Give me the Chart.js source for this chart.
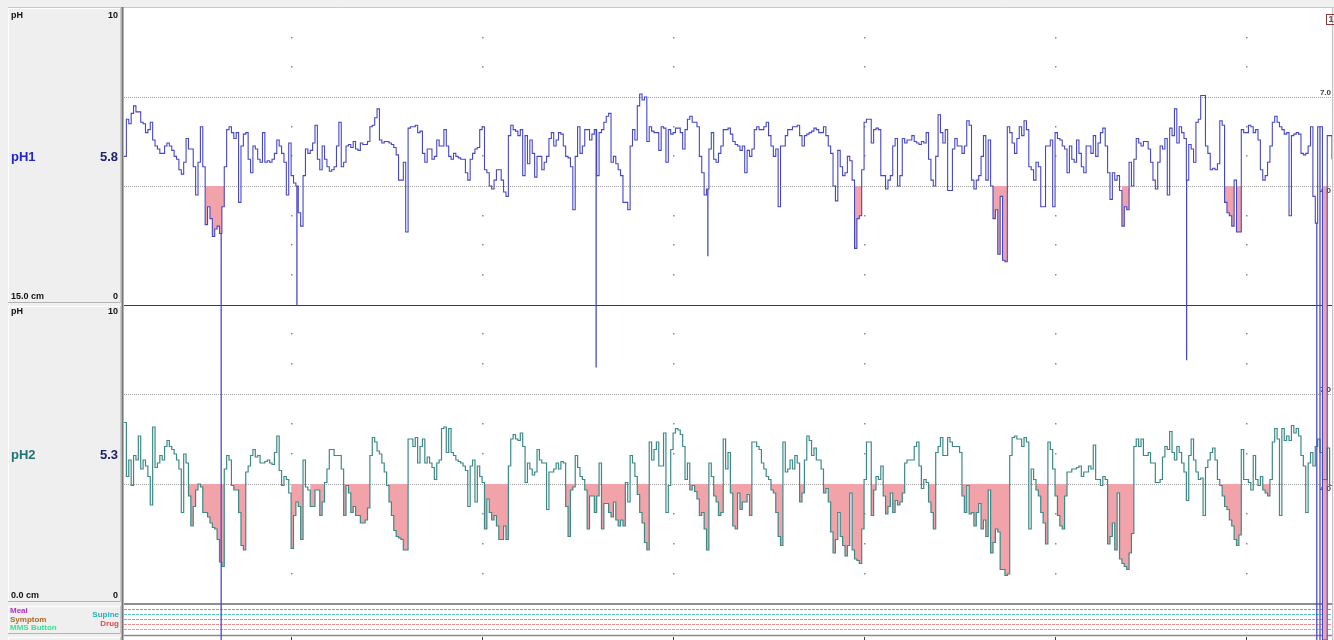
<!DOCTYPE html>
<html>
<head>
<meta charset="utf-8">
<title>pH monitoring</title>
<script src="https://cdn.jsdelivr.net/npm/chart.js@4.4.1/dist/chart.umd.min.js"></script>
<style>
  html, body { margin: 0; padding: 0; background: #f0f0f0; overflow: hidden; }
  canvas { display: block; }
</style>
</head>
<body>
<canvas id="trace" width="1334" height="640"></canvas>
<script>
// Stored samples are 0.75 minutes apart, starting at the beginning of the record.
const SAMPLE_MIN = 0.75;

// Proximal channel (pH1), one value per sample.
const ph1Values = [
  5.0,6.25, 6.1,6.45, 6.7,6.5, 6.5,6.15, 6.1,5.8,
  5.9,6.15, 5.55,5.35, 5.25,5.1, 5.1,5.35, 5.45,5.35,
  5.2,5.0, 4.9,4.55, 4.4,4.8, 5.6,5.25, 5.25,4.65,
  3.7,4.8, 6.0,4.65, 2.7,3.3, 2.9,2.3, 2.55,2.65,
  2.4,3.3, 4.65,5.9, 6.0,5.8, 5.6,5.8, 3.45,5.35,
  5.75,5.8, 4.9,4.45, 5.35,5.25, 4.9,4.8, 5.8,4.8,
  4.85,4.8, 4.9,5.1, 5.55,5.35, 5.1,4.8, 3.7,5.45,
  4.35,4.1, 4.0,3.1, 2.65,4.35, 5.25,5.1, 5.2,5.45,
  6.05,4.9, 4.55,5.35, 4.9,4.65, 4.5,4.55, 4.65,5.35,
  6.15,4.65, 4.8,5.35, 5.4,5.3, 5.5,5.25, 5.2,5.45,
  5.4,5.4, 5.5,6.0, 6.05,6.3, 6.6,5.55, 5.45,5.5,
  5.5,5.45, 5.4,5.3, 5.05,4.2, 4.2,4.8, 2.45,5.95,
  6.0,6.0, 6.05,5.8, 5.85,5.1, 4.8,5.25, 5.25,4.9,
  5.0,5.55, 5.35,5.35, 5.9,5.35, 5.0,4.9, 5.1,5.0,
  4.95,4.9, 4.9,4.45, 4.2,4.9, 5.1,5.25, 5.3,5.9,
  6.0,4.55, 4.45,4.0, 3.9,4.2, 4.55,4.55, 4.2,3.8,
  3.65,5.7, 6.05,5.9, 5.85,5.7, 5.9,4.35, 5.7,4.75,
  5.55,5.1, 4.3,5.0, 5.0,4.55, 4.8,5.0, 5.6,5.8,
  5.35,5.55, 5.8,5.75, 5.35,5.0, 4.95,4.65, 3.2,5.0,
  6.0,5.1, 5.35,5.9, 5.9,5.55, 5.75,5.9, 4.35,5.8,
  5.9,6.15, 6.35,6.45, 4.8,5.0, 4.75,4.55, 4.35,3.45,
  3.45,3.2, 5.35,5.9, 5.55,6.7, 7.1,6.9, 7.0,5.5,
  6.0,5.85, 5.8,5.8, 5.2,6.0, 5.95,4.8, 5.9,5.75,
  5.8,5.95, 5.95,5.8, 5.25,5.9, 6.25,6.35, 6.15,6.15,
  6.0,5.0, 4.45,3.7, 3.9,5.25, 5.8,4.9, 4.8,5.1,
  5.35,5.9, 5.9,5.95, 5.75,5.5, 5.4,5.35, 5.2,5.35,
  4.45,5.2, 5.0,5.25, 5.9,6.0, 5.9,5.9, 6.0,6.15,
  5.7,5.35, 5.0,5.25, 3.3,5.35, 5.35,5.7, 5.9,5.9,
  6.0,6.0, 6.05,5.7, 5.35,5.7, 5.75,5.8, 5.85,5.95,
  5.9,5.8, 5.8,6.0, 5.7,5.35, 5.1,4.0, 3.5,5.2,
  4.65,4.35, 4.45,5.0, 4.85,4.2, 1.9,2.9, 3.0,4.55,
  6.15,6.25, 6.25,5.45, 5.9,5.95, 5.9,4.35, 4.35,3.9,
  4.2,4.35, 5.35,5.6, 4.0,4.35, 5.6,5.45, 5.55,5.55,
  5.7,5.5, 5.45,5.4, 5.5,5.45, 5.8,4.9, 4.2,4.0,
  5.0,6.4, 5.8,5.45, 5.9,3.85, 3.85,5.25, 5.6,5.35,
  5.35,5.1, 5.35,6.2, 6.05,4.2, 3.9,4.2, 4.35,5.0,
  5.7,4.2, 5.55,4.0, 2.9,3.2, 1.7,3.65, 1.5,1.45,
  6.0,5.8, 5.45,5.1, 5.6,6.0, 5.7,6.2, 5.9,4.65,
  4.55,4.2, 4.8,4.65, 3.3,3.3, 5.35,5.35, 5.55,3.3,
  5.8,5.6, 5.55,5.35, 5.25,4.45, 5.35,4.9, 4.8,5.55,
  5.1,4.65, 4.45,5.35, 5.35,5.1, 5.7,5.0, 5.45,5.8,
  5.95,5.35, 4.45,3.55, 4.45,4.2, 4.35,3.85, 2.65,3.3,
  3.2,4.8, 4.0,4.9, 5.6,5.45, 5.35,5.5, 5.5,5.25,
  4.8,4.2, 3.9,4.8, 5.35,5.25, 5.6,3.7, 5.95,5.7,
  6.6,5.45, 6.0,5.8, 5.6,4.2, 5.4,5.25, 4.8,6.15,
  6.25,7.05, 7.05,5.35, 5.1,4.55, 4.6,4.55, 4.75,6.2,
  6.05,3.45, 3.1,3.0, 2.65,4.2, 2.45,2.45, 5.9,5.8,
  5.8,6.05, 6.0,5.8, 5.9,5.55, 4.55,4.2, 4.35,4.8,
  5.35,6.15, 6.35,6.15, 6.0,5.9, 5.75,5.8, 3.0,5.7,
  5.75,5.8, 5.75,5.1, 5.05,5.1, 5.35,6.0, 3.65,2.75,
  6.0,5.35, -11.3,-11.3, 5.7,5.7, 4.9
];

// Distal channel (pH2), one value per sample.
const ph2Values = [
  6.05,4.25, 4.8,3.95, 4.95,4.8, 5.6,4.5, 4.8,4.6,
  4.25,3.3, 5.9,4.55, 4.7,4.95, 4.8,5.25, 5.45,5.25,
  5.15,5.0, 4.8,4.5, 3.05,5.0, 4.7,3.6, 2.6,3.25,
  3.8,4.0, 3.9,3.05, 3.05,2.9, 2.7,2.55, 2.5,2.15,
  1.4,1.25, 4.5,4.95, 4.8,3.95, 3.8,3.8, 3.05,1.95,
  1.8,4.4, 4.6,4.95, 5.15,4.9, 4.95,4.7, 4.7,4.75,
  4.8,4.7, 4.65,5.05, 5.6,4.45, 3.95,4.25, 4.15,3.7,
  1.85,2.95, 3.4,3.25, 2.15,4.8, 3.9,3.8, 3.25,3.25,
  3.8,3.8, 2.95,3.4, 4.05,4.5, 5.15,5.15, 4.95,4.95,
  4.95,4.5, 2.95,3.95, 3.7,3.05, 3.25,2.95, 2.95,2.7,
  2.7,2.8, 3.2,4.95, 5.55,5.4, 5.1,5.0, 4.7,4.4,
  3.95,3.4, 2.95,2.45, 2.25,2.2, 2.15,1.8, 1.8,5.5,
  5.5,5.25, 5.55,4.7, 5.25,5.5, 4.7,4.9, 4.7,4.55,
  4.15,4.7, 4.8,5.85, 5.9,5.05, 5.85,5.05, 4.95,4.8,
  4.75,4.7, 4.6,4.45, 3.25,4.6, 4.8,3.4, 4.6,4.25,
  4.05,2.5, 3.5,3.05, 2.8,2.95, 2.6,2.15, 2.15,2.6,
  2.15,4.6, 5.5,5.65, 5.5,5.45, 5.7,5.25, 4.05,4.7,
  4.5,4.3, 4.4,5.15, 4.8,4.7, 4.7,3.15, 4.4,4.4,
  4.5,4.7, 4.5,4.75, 4.7,3.25, 2.25,3.8, 3.9,4.95,
  4.55,4.25, 4.15,3.8, 2.5,3.6, 3.6,3.05, 3.6,4.7,
  2.5,3.35, 3.35,3.05, 2.9,3.4, 2.8,2.6, 2.8,2.6,
  4.05,3.4, 4.95,4.7, 4.25,3.65, 3.05,2.7, 2.05,1.8,
  5.4,4.8, 5.15,5.4, 4.6,4.6, 5.7,3.05, 3.95,5.15,
  5.7,5.85, 5.8,5.65, 5.25,4.15, 4.7,3.8, 3.95,3.75,
  3.5,2.95, 3.05,2.5, 1.8,4.7, 4.25,3.6, 3.4,2.95,
  3.05,5.5, 4.5,5.05, 3.7,2.6, 2.5,3.7, 3.15,3.4,
  3.4,3.65, 2.95,5.4, 5.4,5.25, 5.15,4.7, 4.5,4.25,
  4.15,3.8, 3.7,3.05, 2.25,1.95, 5.4,4.4, 4.5,4.8,
  4.5,4.95, 4.7,3.4, 3.7,4.8, 5.6,5.45, 4.95,5.2,
  4.8,4.8, 4.5,3.7, 3.85,3.4, 2.4,1.7, 2.15,3.05,
  2.25,1.95, 1.6,1.95, 3.7,1.8, 1.5,1.45, 1.35,2.5,
  4.15,5.4, 5.4,2.95, 3.8,4.25, 4.15,4.6, 3.6,3.0,
  3.25,3.7, 3.05,3.45, 3.3,3.4, 3.7,4.7, 4.8,4.8,
  4.8,5.25, 5.4,4.6, 3.85,4.15, 4.05,3.4, 3.05,2.5,
  5.05,5.25, 5.55,4.95, 4.95,5.55, 5.4,5.25, 5.25,5.25,
  5.05,3.6, 3.05,3.95, 3.0,3.05, 2.6,3.05, 3.35,2.5,
  2.8,2.25, 3.8,1.7, 2.05,2.5, 2.4,1.15, 1.15,0.95,
  1.0,4.95, 5.55,5.6, 5.5,5.5, 5.25,5.55, 5.4,2.5,
  4.5,4.15, 3.8,3.6, 3.05,2.7, 2.0,5.4, 5.15,4.5,
  3.6,2.95, 2.6,2.5, 3.6,4.4, 4.4,4.5, 4.5,4.55,
  4.6,4.25, 4.4,4.4, 4.6,4.5, 5.3,4.15, 4.15,3.95,
  4.25,4.15, 2.0,2.25, 2.7,1.8, 3.7,1.5, 1.35,1.25,
  1.15,1.7, 2.35,5.25, 5.5,5.25, 5.5,4.95, 4.95,5.05,
  4.7,4.7, 4.05,4.05, 4.15,4.9, 5.25,5.15, 5.75,5.05,
  4.8,5.25, 5.05,4.7, 4.4,3.45, 4.95,5.5, 4.8,4.4,
  4.15,4.2, 2.95,4.55, 4.8,5.05, 5.2,4.8, 4.15,3.95,
  3.6,3.25, 3.15,2.8, 2.6,2.15, 1.95,2.3, 5.15,4.15,
  4.15,4.05, 3.8,4.95, 4.15,3.95, 4.25,3.8, 3.7,3.6,
  4.15,5.4, 5.85,5.5, 2.95,5.85, 5.45,5.6, 5.45,5.95,
  5.7,5.85, 5.6,4.95, 4.6,3.05, 4.7,5.05, 4.6,5.25,
  5.5,5.05, 4.15,4.15, 5.2,3.95, 3.95
];

// Short electrode artefacts on pH1 (minutes, lowest reading).
const ph1ArtifactTimes = [30.5, 54.3, 148.3, 183.4, 333.8, 374.7, 375.7];
const ph1ArtifactLows  = [-11.5, 0.0, -2.1, 1.65, -1.85, -11.5, -11.5];

// Acid episodes (pH < 4) marked by the analysis, [start, end] in minutes.
const ph1Episodes = [[25,31],[229,231.5],[272.5,277],[313,315.5],[345.5,350.5],[376,377.5]];
const ph2Episodes = [
  [20,31],[33.5,38],[52,56],[58,62.5],[68.5,77],[83,89],[113,120.5],
  [138.5,157],[160.5,164.5],[177.5,183.5],[185,188],[190,197],[203,206.5],
  [212,213.5],[219.5,232],[234.5,245],[252.5,254.5],[263,278],[286,290],
  [292,296],[308.5,317],[344,350.5],[357.5,359.5]
];

// Hour marks on the time axis (minutes from start) and record length.
const hourTicks = [52.5, 112.5, 172.5, 232.5, 292.5, 352.5];
const recordEnd = 379.5;

// Reference levels and grid levels on the pH scale.
const refLevels = [7.0, 4.0];
const dotLevels = [1, 2, 3, 5, 6, 8, 9];

// Channel captions.
const channelNames = ['pH1', 'pH2'];
const channelReadings = ['5.8', '5.3'];
const channelDepths = ['15.0 cm', '0.0 cm'];
const eventNamesLeft = ['Meal', 'Symptom', 'MMS Button'];
const eventNamesRight = ['Supine', 'Drug'];

const COLORS = {
  ph1: '#4646c8',
  ph2: '#3b8a88',
  acid: '#f2a3a9',
  ph1Text: '#2424cc',
  ph2Text: '#1d7574',
  reading: '#20206e',
  eventLines: ['#c27ad2', '#5cc8c8', '#c89a78', '#e88e8e', '#5ad2c4'],
  eventLeft: ['#b232c4', '#b06a22', '#3ee092'],
  eventRight: ['#22b2ba', '#e24c4c']
};

const FONT = '"Liberation Sans", Arial, sans-serif';

function samplePoints(vals) {
  return vals.map((v, i) => ({ x: i * SAMPLE_MIN, y: v }));
}

// Artefacts are drawn as vertical drops from the held value.
function traceWithArtifacts(vals, times, lows) {
  const pts = samplePoints(vals);
  times.forEach((t, k) => {
    const base = vals[Math.min(vals.length - 1, Math.floor(t / SAMPLE_MIN))];
    pts.push({ x: t - 0.05, y: base }, { x: t, y: lows[k] }, { x: t + 0.05, y: base });
  });
  return pts.sort((a, b) => a.x - b.x);
}

// Samples inside an episode plus the sample that closes it; null elsewhere.
function episodePoints(vals, eps) {
  return vals.map((v, i) => {
    const t = i * SAMPLE_MIN;
    const inside = eps.some(([a, b]) => t >= a && t <= b);
    const closing = eps.some(([a, b]) => t > b && t - SAMPLE_MIN <= b && t - SAMPLE_MIN >= a);
    return { x: t, y: (inside || closing) ? v : null };
  });
}

function hline(ctx, y, x0, x1, color, width, dash) {
  ctx.save();
  ctx.strokeStyle = color;
  ctx.lineWidth = width;
  ctx.setLineDash(dash || []);
  ctx.beginPath();
  ctx.moveTo(x0, y);
  ctx.lineTo(x1, y);
  ctx.stroke();
  ctx.restore();
}

function vline(ctx, x, y0, y1, color, width) {
  ctx.save();
  ctx.strokeStyle = color;
  ctx.lineWidth = width;
  ctx.beginPath();
  ctx.moveTo(x, y0);
  ctx.lineTo(x, y1);
  ctx.stroke();
  ctx.restore();
}

function text(ctx, str, x, y, font, color, align) {
  ctx.font = font;
  ctx.fillStyle = color;
  ctx.textAlign = align || 'left';
  ctx.textBaseline = 'middle';
  ctx.fillText(str, x, y);
}

// Frame, panels, reference lines, grid dots and captions around the traces.
const recorderFrame = {
  id: 'recorderFrame',
  beforeDraw(chart) {
    const { ctx, chartArea: a, scales } = chart;
    const { x, y1, y2 } = scales;
    const W = chart.width, H = chart.height;
    const panels = [y1, y2];
    const p1Top = y1.getPixelForValue(10), p1Bot = y1.getPixelForValue(0);
    const p2Top = y2.getPixelForValue(10), p2Bot = y2.getPixelForValue(0);
    const stripBot = p2Bot + 31;
    const leftX = 8, leftW = 113;

    ctx.save();
    ctx.fillStyle = '#f0f0f0';
    ctx.fillRect(0, 0, W, H);
    ctx.fillStyle = '#ffffff';
    ctx.fillRect(a.left, a.top, a.right - a.left, a.bottom - a.top);

    // outer borders
    hline(ctx, 7.5, leftX, W, '#c9c9c9', 1);
    vline(ctx, a.right + 0.5, 7, H, '#c4c4c4', 1);

    // caption panels on the left
    const boxes = [
      [p1Top, Math.round(p1Bot) - 2],
      [Math.round(p2Top) + 2, Math.round(p2Bot) - 2],
      [Math.round(p2Bot) + 2, stripBot - 1],
      [stripBot + 2, H + 2]
    ];
    boxes.forEach(([t, b]) => {
      ctx.fillStyle = '#efefef';
      ctx.fillRect(leftX, t, leftW, b - t);
      hline(ctx, t + 0.5, leftX, leftX + leftW, '#ffffff', 1);
      vline(ctx, leftX + 0.5, t, b, '#ffffff', 1);
      hline(ctx, b - 0.5, leftX, leftX + leftW, '#b4b4b4', 1);
      vline(ctx, leftX + leftW - 0.5, t, b, '#c8c8c8', 1);
    });
    vline(ctx, a.left - 1.5, 7, H, '#747474', 2);

    // reference levels 7.0 and 4.0
    panels.forEach(s => {
      refLevels.forEach(v => {
        const py = Math.round(s.getPixelForValue(v)) + 0.5;
        hline(ctx, py, a.left, a.right, '#a2a2a2', 1, [1, 1]);
      });
    });

    // grid dots at each hour mark, plus the hour ticks under the event strip
    hourTicks.forEach(t => {
      const px = Math.round(x.getPixelForValue(t));
      ctx.fillStyle = '#8c8c8c';
      panels.forEach(s => {
        dotLevels.forEach(v => {
          const py = Math.round(s.getPixelForValue(v));
          ctx.fillRect(px, py - 1, 1.5, 1.5);
        });
      });
      ctx.fillStyle = '#404040';
      ctx.fillRect(px, stripBot + 2, 1, H - stripBot - 2);
    });

    // panel separators and event strip
    hline(ctx, Math.round(p1Bot) + 0.5, a.left, a.right, '#3c3c3c', 1);
    hline(ctx, Math.round(p2Bot), a.left, a.right, '#8e8e8e', 2);
    COLORS.eventLines.forEach((c, k) => {
      hline(ctx, Math.round(p2Bot) + 5.5 + 5 * k, a.left, a.right, c, 1, [3, 1]);
    });
    hline(ctx, stripBot + 0.5, a.left, a.right, '#8a8a8a', 1.5);

    // right-hand level labels
    const small = 'bold 8px ' + FONT;
    panels.forEach(s => {
      text(ctx, '7.0', a.right - 1, s.getPixelForValue(7) - 4, small, '#3a3a3a', 'right');
      text(ctx, '4.0', a.right - 1, s.getPixelForValue(4) + 4.5, small, '#3a3a3a', 'right');
    });

    // channel captions
    const tiny = 'bold 9px ' + FONT;
    const big = 'bold 13px ' + FONT;
    const tops = [p1Top, p2Top];
    const bots = [p1Bot, p2Bot];
    const nameColors = [COLORS.ph1Text, COLORS.ph2Text];
    panels.forEach((s, k) => {
      const mid = s.getPixelForValue(5) + 1;
      text(ctx, 'pH', 11, tops[k] + 8, tiny, '#111111');
      text(ctx, '10', 118, tops[k] + 8, tiny, '#111111', 'right');
      text(ctx, channelNames[k], 11, mid, big, nameColors[k]);
      text(ctx, channelReadings[k], 118, mid, big, COLORS.reading, 'right');
      text(ctx, channelDepths[k], 11, bots[k] - 8, tiny, '#111111');
      text(ctx, '0', 118, bots[k] - 8, tiny, '#111111', 'right');
    });

    // event strip captions
    const ev = 'bold 8px ' + FONT;
    eventNamesLeft.forEach((n, k) => {
      text(ctx, n, 10, Math.round(p2Bot) + 7 + 8.5 * k, ev, COLORS.eventLeft[k]);
    });
    eventNamesRight.forEach((n, k) => {
      text(ctx, n, 119, Math.round(p2Bot) + 11 + 8.5 * k, ev, COLORS.eventRight[k], 'right');
    });

    // page marker at the top right
    ctx.strokeStyle = '#8a3a3a';
    ctx.lineWidth = 1;
    ctx.strokeRect(a.right - 5.5, 14.5, 8, 10);
    text(ctx, '1', a.right - 3.5, 19.5, 'bold 9px ' + FONT, '#8a3a3a');
    ctx.restore();
  }
};

const ph1Trace = traceWithArtifacts(ph1Values, ph1ArtifactTimes, ph1ArtifactLows);
const ph2Trace = samplePoints(ph2Values);

new Chart(document.getElementById('trace'), {
  type: 'line',
  data: {
    datasets: [
      {
        label: channelNames[0], data: ph1Trace, yAxisID: 'y1',
        borderColor: COLORS.ph1, borderWidth: 1.1, stepped: true,
        pointRadius: 0, fill: false
      },
      {
        label: channelNames[1], data: ph2Trace, yAxisID: 'y2',
        borderColor: COLORS.ph2, borderWidth: 1.2, stepped: true,
        pointRadius: 0, fill: false
      },
      {
        label: 'pH1 acid', data: episodePoints(ph1Values, ph1Episodes), yAxisID: 'y1',
        borderColor: 'rgba(0,0,0,0)', borderWidth: 0, stepped: true, pointRadius: 0,
        spanGaps: false,
        fill: { target: { value: 4 }, above: 'rgba(0,0,0,0)', below: COLORS.acid }
      },
      {
        label: 'pH2 acid', data: episodePoints(ph2Values, ph2Episodes), yAxisID: 'y2',
        borderColor: 'rgba(0,0,0,0)', borderWidth: 0, stepped: true, pointRadius: 0,
        spanGaps: false,
        fill: { target: { value: 4 }, above: 'rgba(0,0,0,0)', below: COLORS.acid }
      }
    ]
  },
  options: {
    responsive: false,
    animation: false,
    events: [],
    devicePixelRatio: 1,
    layout: { padding: { left: 124, top: 8, right: 2, bottom: 0 } },
    plugins: { legend: { display: false }, tooltip: { enabled: false } },
    scales: {
      x: { type: 'linear', min: 0, max: recordEnd, display: false },
      // pH1 panel: 10 at the top edge, 0 at the panel divider; deep artefacts run below it
      y1: { type: 'linear', min: -11.3, max: 10, display: false },
      // pH2 panel: 0 at the event strip, 10 at the panel divider
      y2: { type: 'linear', min: -1.2, max: 19.867, display: false }
    }
  },
  plugins: [recorderFrame]
});
</script>
</body>
</html>
